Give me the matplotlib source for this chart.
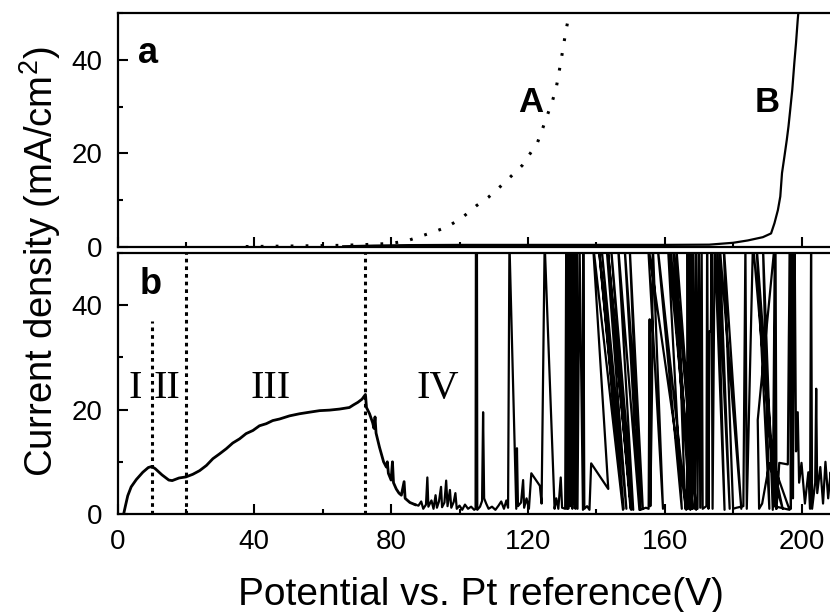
import matplotlib
matplotlib.use("Agg")
import matplotlib.pyplot as plt
from matplotlib.ticker import MultipleLocator

plt.rcParams['font.family'] = 'Liberation Sans'
plt.rcParams['mathtext.fontset'] = 'custom'
plt.rcParams['mathtext.rm'] = 'Liberation Sans'
plt.rcParams['mathtext.it'] = 'Liberation Sans:italic'

# (a) polarisation curves A (dotted) and B (solid)
v_A = [37.5, 45, 55, 65, 72, 78, 82, 85, 87.8, 92.0, 96.1, 100.5, 104.9, 108.4,
       111.9, 115.2, 118.3, 120.6, 122.8, 124.4, 125.7, 127.1, 128.3, 129.0,
       129.7, 130.4, 131.1, 132.0, 132.4]
j_A = [0.1, 0.15, 0.25, 0.35, 0.5, 0.7, 1.0, 1.4, 2.1, 3.1, 4.2, 6.1, 8.8, 10.6,
       12.9, 15.2, 17.4, 19.9, 22.3, 25.5, 28.2, 31.0, 34.1, 36.9,
       39.9, 43.0, 46.1, 49.5, 51.0]

v_B = [66, 75, 85, 100, 120, 140, 160, 173, 180, 184.3, 188.7, 191.1, 192.1,
       193.1, 193.8, 194.3, 195.0, 195.7, 196.2, 196.7, 197.3, 197.9, 198.4,
       198.9, 199.2]
j_B = [0.15, 0.3, 0.4, 0.45, 0.45, 0.45, 0.45, 0.5, 0.9, 1.4, 2.1, 2.9, 5.1,
       7.9, 10.8, 15.8, 19.3, 22.9, 25.8, 29.3, 33.6, 39.3, 43.6,
       48.6, 51.0]

# (b) anodizing curve: stages I-III and the decay after the breakdown peak
v_b = [1.8, 2.3, 3.0, 4.0, 5.5, 7.4, 9.0, 10.0, 11.0, 13.0, 15.0, 16.0, 18.0,
       20.0, 22.0, 24.0, 26.0, 27.9, 29.8, 31.8, 33.7, 35.7, 37.6, 39.6, 41.5,
       43.5, 45.4, 47.4, 50.3, 53.2, 56.1, 59.1, 62.0, 64.9, 67.8, 69.0, 70.3,
       71.5, 72.5, 72.8, 73.7, 74.6, 75.0, 75.3, 75.6, 76.6, 77.8, 78.6, 78.9,
       79.2, 80.0, 80.4, 80.7, 81.5, 82.3, 83.0, 83.8, 84.1, 85.5, 87.0]
j_b = [0.0, 1.5, 3.5, 5.2, 6.6, 8.0, 8.9, 9.1, 8.7, 7.5, 6.5, 6.4, 6.9,
       7.1, 7.6, 8.3, 9.3, 10.6, 11.5, 12.5, 13.6, 14.4, 15.4, 16.0, 16.9,
       17.3, 17.9, 18.2, 18.8, 19.2, 19.5, 19.8, 19.9, 20.1, 20.4, 20.9, 21.4,
       22.0, 22.9, 20.4, 19.2, 17.5, 16.4, 18.6, 15.5, 12.8, 10.0, 9.0, 10.0,
       7.8, 6.5, 10.0, 6.0, 4.8, 4.0, 3.6, 6.2, 3.0, 2.2, 1.8]

# (b) stage IV: sparking region, values above 50 run off the top of the panel
v_s = [88.0, 88.8, 89.4, 90.2, 90.6, 90.9, 91.8, 92.4, 93.0, 93.4, 94.0, 94.6,
       94.9, 95.6, 96.1, 96.5, 97.2, 97.6, 98.3, 98.8, 99.2, 100.0, 100.8,
       101.6, 102.5, 103.4, 104.3,
       104.7, 104.8, 105.1, 105.2, 106.0, 106.6, 106.9, 107.2, 107.8, 108.5,
       109.5, 110.5, 111.4, 112.2, 113.0, 113.7, 114.2,
       114.6, 116.6, 116.8, 117.1, 118.0, 118.6, 118.9, 119.6, 120.3,
       121.0, 123.5, 124.0, 124.9, 127.8, 128.3, 128.9, 129.6, 130.0, 130.9,
       131.2, 131.4, 131.6, 131.8, 132.0, 132.4, 132.7, 133.0, 133.2, 133.5,
       133.7, 133.9, 134.2, 134.5,
       135.1, 136.1, 136.2, 136.5, 137.3, 138.0,
       138.5, 143.5, 139.0, 147.8, 140.6, 148.0, 141.4, 148.8, 142.9, 150.2,
       143.2, 150.0, 144.2, 150.8, 146.3, 152.6, 148.2, 153.6, 149.7, 152.9,
       154.5, 155.3, 155.6, 155.8, 156.3, 156.5, 159.5, 155.1, 166.3,
       157.8, 165.0, 160.9, 168.2, 161.6, 167.5, 162.4, 169.2, 163.3, 166.0,
       166.5, 166.7, 167.0, 167.2, 167.4, 167.7, 168.0, 168.4, 168.8, 169.2,
       169.6, 170.0, 170.4, 170.8, 171.1,
       172.2, 172.4, 172.8, 173.1, 173.5, 173.7, 174.0,
       174.6, 177.5, 175.3, 179.0, 176.0, 182.4, 177.2, 180.0,
       181.0, 183.0, 183.6, 184.0,
       185.8, 192.6, 186.8, 190.6, 188.7, 191.6,
       192.2, 187.2, 187.6,
       188.5, 190.6, 194.5, 191.6, 196.5, 192.0, 192.4, 192.7, 193.5, 196.0,
       196.3, 196.6, 196.9, 197.0, 197.3, 197.5, 197.7, 198.0, 198.4, 198.9,
       199.3, 200.0, 201.0, 202.0, 202.5, 202.8, 203.1, 204.0, 204.3, 204.6,
       205.5, 206.3, 207.0, 207.8, 208.5, 209.5, 210.5]
j_s = [1.6, 2.4, 1.0, 1.8, 7.0, 1.4, 2.6, 1.0, 3.6, 1.2, 2.4, 5.2,
       1.3, 2.2, 6.4, 1.5, 4.6, 1.2, 2.3, 4.0, 1.0, 1.6, 0.8,
       1.8, 1.0, 1.4, 0.8,
       1.0, 52, 52, 0.8, 1.4, 2.5, 19.5, 3.0, 2.0, 1.0,
       1.4, 0.8, 1.6, 2.4, 1.0, 2.6, 1.2,
       52, 1.0, 12.6, 1.5, 2.2, 6.5, 1.2, 3.0, 1.0,
       7.8, 5.4, 2.0, 52, 1.0, 3.0, 1.0, 7.0, 1.2, 1.0,
       52, 1.0, 52, 1.0, 52, 1.5, 52, 1.0, 52, 2.0,
       52, 1.0, 52, 1.0,
       52, 0.8, 52, 1.0, 1.5, 0.8,
       9.7, 4.8, 52, 0.8, 52, 1.0, 52, 1.0, 52, 0.8,
       52, 1.0, 52, 0.8, 52, 0.8, 52, 1.0, 52, 0.8,
       1.2, 1.0, 37.3, 1.5, 24.0, 52, 1.0, 52, 0.8,
       52, 1.0, 52, 1.0, 52, 0.8, 52, 0.8, 52, 1.0,
       1.0, 52, 1.0, 52, 1.2, 52, 1.0, 52, 1.0, 52,
       1.0, 52, 1.2, 52, 1.0,
       1.5, 52, 1.0, 35.0, 35.0, 52, 1.0,
       52, 0.8, 52, 1.0, 52, 1.0, 52, 1.0,
       1.2, 1.5, 52, 1.0,
       52, 1.0, 52, 1.0, 52, 0.8,
       52, 18.0, 1.0,
       2.0, 9.7, 1.0, 9.9, 0.8, 1.5, 52, 1.0, 9.8, 9.5,
       34.0, 52, 1.0, 34.0, 52, 3.0, 34.0, 52, 12.0, 19.5,
       6.0, 9.8, 2.0, 8.0, 1.0, 52, 1.0, 6.0, 24.0, 4.0,
       9.0, 2.0, 10.0, 3.0, 8.0, 2.0, 9.0]

# stage boundaries (V) and how high each marker reaches
stage_v = [10, 20, 72.5]
stage_top = [37, 50, 50]
stage_names = ['I', 'II', 'III', 'IV']
stage_pos = [5.3, 14.5, 44.7, 93.7]

W, H = 830, 612
fig = plt.figure(figsize=(W / 100, H / 100), dpi=100)
left = 117.5 / W
width = 215 * 3.42 / W
ax_a = fig.add_axes([left, 1 - 247 / H, width, 234 / H])
ax_b = fig.add_axes([left, 1 - 514 / H, width, 261 / H])

for ax in (ax_a, ax_b):
    ax.set_xlim(0, 215)
    ax.set_ylim(0, 50)
    ax.xaxis.set_major_locator(MultipleLocator(40))
    ax.xaxis.set_minor_locator(MultipleLocator(20))
    ax.yaxis.set_major_locator(MultipleLocator(20))
    ax.yaxis.set_minor_locator(MultipleLocator(10))
    ax.tick_params(which='both', direction='in', width=1.5, pad=11,
                   labelsize=20, top=False, right=False)
    ax.tick_params(which='major', length=7)
    ax.tick_params(which='minor', length=3.5)
    for s in ax.spines.values():
        s.set_linewidth(1.6)
    ax.spines['right'].set_visible(False)

ax_a.tick_params(labelbottom=False)

# panel a
ax_a.plot(v_A, j_A, color='black', lw=2.2, linestyle=(0, (0.9, 4.0)))
ax_a.plot(v_B, j_B, color='black', lw=1.6)
ax_a.text(5.85, 39.4, 'a', fontsize=26, fontweight='bold', ha='left', va='baseline')
ax_a.text(120.8, 28.9, 'A', fontsize=25, fontweight='bold', ha='center', va='baseline')
ax_a.text(189.9, 28.9, 'B', fontsize=25, fontweight='bold', ha='center', va='baseline')

# panel b
ax_b.plot(v_b, j_b, color='black', lw=2.0)
ax_b.plot([v_b[-1]] + v_s, [j_b[-1]] + j_s, color='black', lw=1.6)
for v, top in zip(stage_v, stage_top):
    ax_b.plot([v, v], [0, top], color='black', lw=2.2, linestyle=(0, (1.2, 1.3)))
for name, v in zip(stage_names, stage_pos):
    ax_b.text(v, 22.3, name, fontsize=29, family='Liberation Serif',
              ha='center', va='baseline')
ax_b.text(6.4, 42.1, 'b', fontsize=26, fontweight='bold', ha='left', va='baseline')

fig.text(53 / W, 1 - 262 / H, 'Current density (mA/cm$^2$)', fontsize=27.5,
         rotation=90, rotation_mode='anchor', ha='center', va='baseline')
fig.text(481 / W, 1 - 605 / H, 'Potential vs. Pt reference(V)', fontsize=28,
         ha='center', va='baseline')

fig.savefig('out.png', dpi=100, facecolor='white')
